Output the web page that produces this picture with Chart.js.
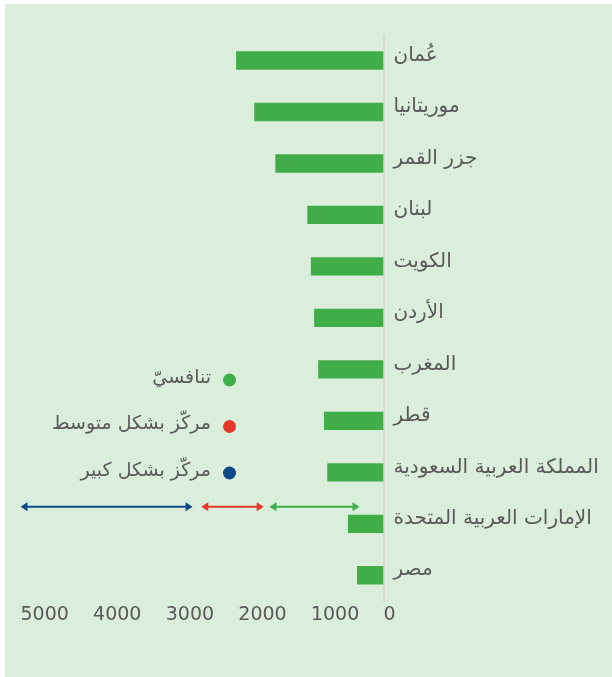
<!DOCTYPE html>
<html lang="ar">
<head>
<meta charset="utf-8">
<script src="https://cdn.jsdelivr.net/npm/chart.js@4.4.0/dist/chart.umd.min.js"></script>
<style>
  html, body { margin: 0; padding: 0; background: #fff; }
  #panel { position: absolute; left: 5px; top: 4px; width: 607px; height: 673px; background: #daeedb; }
  #wrap { position: absolute; left: 0; top: 0; width: 612px; height: 677px; }
</style>
</head>
<body>
<div id="panel"></div>
<div id="wrap"><canvas id="chart" width="612" height="677"></canvas></div>
<script>
// countries, top to bottom
const countries = ['عُمان', 'موريتانيا', 'جزر القمر', 'لبنان', 'الكويت', 'الأردن', 'المغرب', 'قطر',
    'المملكة العربية السعودية', 'الإمارات العربية المتحدة', 'مصر'];
const values = [2030, 1780, 1490, 1050, 1000, 955, 900, 820, 775, 490, 365];
const xTicks = [0, 1000, 2000, 3000, 4000, 5000];

// legend entries
const legendLabels = ['تنافسيّ', 'مركّز بشكل متوسط', 'مركّز بشكل كبير'];
const legendColors = ['#3dae4a', '#e5392b', '#0e4a89'];

// range arrows under the legend (green, red, blue)
const arrowFrom = [1570, 2510, 5000];
const arrowTo = [330, 1650, 2630];
const arrowRow = 8.67;

const textColor = '#595959';
const fontFamily = '"DejaVu Sans", sans-serif';

const rangeArrows = {
    id: 'rangeArrows',
    afterDatasetsDraw(chart) {
        const ctx = chart.ctx;
        const xs = chart.scales.x;
        const y = chart.scales.y.getPixelForValue(arrowRow);
        const head = 7, half = 4.5;
        ctx.save();
        arrowFrom.forEach((from, i) => {
            let a = xs.getPixelForValue(from);
            let b = xs.getPixelForValue(arrowTo[i]);
            const l = Math.min(a, b), r = Math.max(a, b);
            ctx.strokeStyle = legendColors[i];
            ctx.fillStyle = legendColors[i];
            ctx.lineWidth = 2;
            ctx.beginPath();
            ctx.moveTo(l + head - 1, y);
            ctx.lineTo(r - head + 1, y);
            ctx.stroke();
            ctx.beginPath();
            ctx.moveTo(l, y);
            ctx.lineTo(l + head, y - half);
            ctx.lineTo(l + head, y + half);
            ctx.closePath();
            ctx.fill();
            ctx.beginPath();
            ctx.moveTo(r, y);
            ctx.lineTo(r - head, y - half);
            ctx.lineTo(r - head, y + half);
            ctx.closePath();
            ctx.fill();
        });
        ctx.restore();
    }
};

const customLegend = {
    id: 'customLegend',
    afterDraw(chart) {
        const ctx = chart.ctx;
        const dotX = 229.5;
        const rows = [380, 426.5, 473];
        ctx.save();
        ctx.font = '19px ' + fontFamily;
        ctx.textAlign = 'right';
        ctx.textBaseline = 'middle';
        legendLabels.forEach((label, i) => {
            ctx.fillStyle = legendColors[i];
            ctx.beginPath();
            ctx.arc(dotX, rows[i], 6.5, 0, Math.PI * 2);
            ctx.fill();
            ctx.fillStyle = textColor;
            ctx.fillText(label, 211, rows[i] - 2);
        });
        ctx.restore();
    }
};

new Chart(document.getElementById('chart'), {
    type: 'bar',
    data: {
        labels: countries,
        datasets: [{
            data: values,
            backgroundColor: '#40ad49',
            borderWidth: 0,
            categoryPercentage: 1,
            barPercentage: 0.356,
        }],
    },
    options: {
        indexAxis: 'y',
        responsive: false,
        animation: false,
        layout: { padding: { left: 20.5, top: 34.8, right: 0, bottom: 0 } },
        plugins: {
            legend: { display: false },
            tooltip: { enabled: false },
        },
        scales: {
            x: {
                reverse: true,
                min: 0,
                max: 5000,
                afterBuildTicks: (axis) => { axis.ticks = xTicks.map(v => ({ value: v })); },
                grid: { display: false },
                border: { display: false },
                ticks: {
                    align: 'start',
                    padding: -5,
                    color: textColor,
                    font: { family: fontFamily, size: 19 },
                    callback: (v) => String(v),
                },
                afterFit: (axis) => { axis.height = 76; },
            },
            y: {
                position: 'right',
                grid: { display: true, drawOnChartArea: false, drawTicks: false },
                border: { display: true, color: '#d6d9d6', width: 2 },
                ticks: {
                    padding: 10,
                    labelOffset: -5,
                    color: textColor,
                    font: { family: fontFamily, size: 20 },
                },
                afterFit: (axis) => { axis.width = 228.5; },
            },
        },
    },
    plugins: [rangeArrows, customLegend],
});
</script>
</body>
</html>
